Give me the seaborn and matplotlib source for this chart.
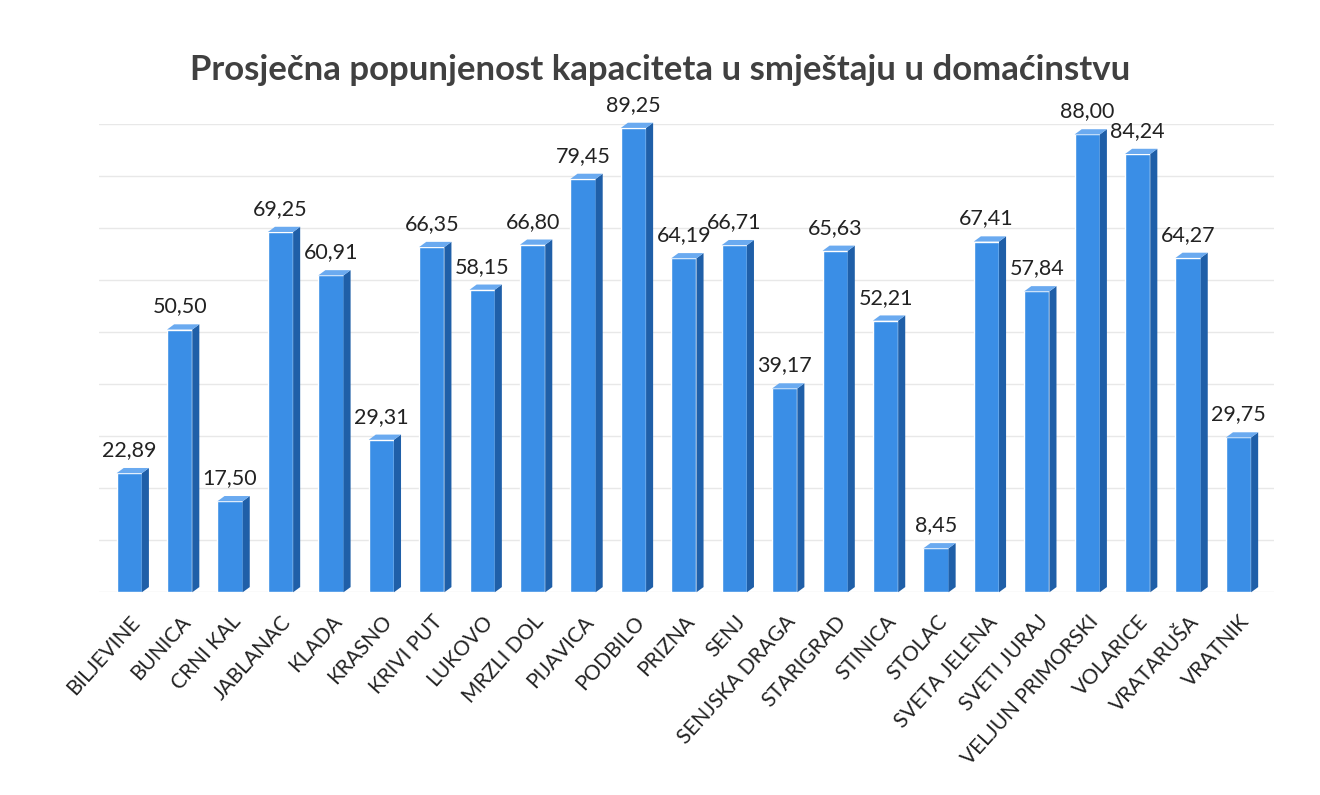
import numpy as np
import pandas as pd
from matplotlib import use
use('agg')
import matplotlib.pyplot as plt
from matplotlib.patches import Polygon
import seaborn as sns

places = ["BILJEVINE", "BUNICA", "CRNI KAL", "JABLANAC", "KLADA", "KRASNO",
          "KRIVI PUT", "LUKOVO", "MRZLI DOL", "PIJAVICA", "PODBILO", "PRIZNA",
          "SENJ", "SENJSKA DRAGA", "STARIGRAD", "STINICA", "STOLAC",
          "SVETA JELENA", "SVETI JURAJ", "VELJUN PRIMORSKI", "VOLARICE",
          "VRATARUŠA", "VRATNIK"]
values = [22.89, 50.50, 17.50, 69.25, 60.91, 29.31, 66.35, 58.15, 66.80,
          79.45, 89.25, 64.19, 66.71, 39.17, 65.63, 52.21, 8.45, 67.41,
          57.84, 88.00, 84.24, 64.27, 29.75]

df = pd.DataFrame({"mjesto": places, "popunjenost": values})

sns.set_style("white")
plt.rcParams['font.family'] = ['Lato', 'DejaVu Sans']

fig = plt.figure(figsize=(13.2, 7.95), dpi=100)
ax = fig.add_axes([0.075, 0.255, 0.89, 0.589])

sns.barplot(data=df, x="mjesto", y="popunjenost", color="#3a8ee6",
            width=0.5, saturation=1, ax=ax, zorder=3)

# fake 3d side faces, built from the bar patches
for p in ax.patches[:len(values)]:
    x0 = p.get_x() + p.get_width()
    h = p.get_height()
    d = p.get_width() * 0.28
    dy = 1.0
    side = Polygon([(x0, 0), (x0 + d, dy), (x0 + d, h + dy), (x0, h)],
                   closed=True, facecolor="#1f5fa8", edgecolor="none", zorder=3,
                   clip_on=False)
    top = Polygon([(p.get_x(), h), (p.get_x() + d, h + dy), (x0 + d, h + dy), (x0, h)],
                  closed=True, facecolor="#6aaaf0", edgecolor="none", zorder=3,
                  clip_on=False)
    ax.add_patch(side)
    ax.add_patch(top)

for i, v in enumerate(values):
    ax.text(i, v + 2.5, f"{v:.2f}".replace(".", ","), ha="center", va="bottom",
            fontsize=15.5, color="#222222", clip_on=False)

ax.set_ylim(0, 90)
ax.set_xlim(-0.6, len(values) - 0.3)
ax.set_yticks(np.arange(0, 91, 10))
ax.yaxis.grid(True, color="#e8e8e8", linewidth=1, zorder=0)
ax.set_yticklabels([])
ax.tick_params(axis="y", length=0)
ax.tick_params(axis="x", length=0, pad=14)
ax.set_xticks(range(len(places)))
ax.set_xticklabels(places, rotation=48, ha="right", rotation_mode="anchor",
                   fontsize=15, color="#222222")
ax.set_xlabel("")
ax.set_ylabel("")
sns.despine(ax=ax, left=True, bottom=True)

fig.suptitle("Prosječna popunjenost kapaciteta u smještaju u domaćinstvu",
             fontsize=25, fontweight="bold", color="#404040", y=0.912, va="center")

plt.savefig("out.png", dpi=100)
